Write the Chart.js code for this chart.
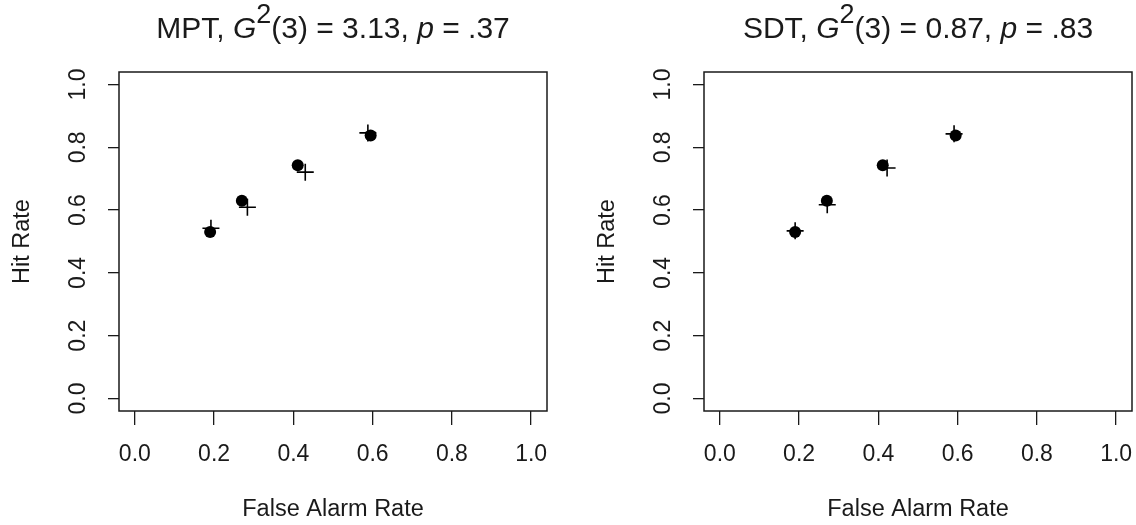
<!DOCTYPE html>
<html>
<head>
<meta charset="utf-8">
<script src="https://cdn.jsdelivr.net/npm/chart.js@4.4.1/dist/chart.umd.min.js"></script>
<style>
  html, body { margin: 0; padding: 0; background: #fff; }
  #wrap { position: relative; width: 1136px; height: 525px; overflow: hidden; }
  canvas { position: absolute; top: 0; }
  #mpt { left: 0; }
  #sdt { left: 585px; }
</style>
</head>
<body>
<div id="wrap">
  <canvas id="mpt" width="568" height="525"></canvas>
  <canvas id="sdt" width="568" height="525"></canvas>
</div>
<script>
// observed false alarm / hit rates, one pair per bias condition
const obsFalseAlarm = [0.190, 0.270, 0.411, 0.595];
const obsHit = [0.530, 0.630, 0.743, 0.838];

// predicted rates from each model
const mptFalseAlarm = [0.192, 0.284, 0.430, 0.588];
const mptHit = [0.542, 0.609, 0.721, 0.846];
const sdtFalseAlarm = [0.190, 0.271, 0.422, 0.591];
const sdtHit = [0.534, 0.617, 0.734, 0.843];

// fit statistics for the panel titles
const modelNames = ['MPT', 'SDT'];
const gSquared = ['3.13', '0.87'];
const pValues = ['.37', '.83'];
const degFree = 3;

const tickValues = [0, 0.2, 0.4, 0.6, 0.8, 1.0];

const FONT = '"Liberation Sans", Arial, Helvetica, sans-serif';
const INK = '#1a1a1a';

function toPoints(xs, ys) {
  return xs.map((x, i) => ({ x: x, y: ys[i] }));
}

// full box round the plot region
const frame = {
  id: 'frame',
  afterDatasetsDraw(chart) {
    const a = chart.chartArea, ctx = chart.ctx;
    ctx.save();
    ctx.strokeStyle = INK;
    ctx.lineWidth = 1.5;
    ctx.strokeRect(a.left, a.top, a.right - a.left, a.bottom - a.top);
    ctx.restore();
  }
};

// title with italic G and p and a raised 2
const mathTitle = {
  id: 'mathTitle',
  afterDraw(chart, args, opts) {
    const ctx = chart.ctx, a = chart.chartArea;
    const parts = [
      { t: opts.model + ', ', f: '30px ' + FONT },
      { t: 'G', f: 'italic 30px ' + FONT },
      { t: '2', f: '27px ' + FONT, up: 15 },
      { t: '(' + degFree + ') = ' + opts.g + ', ', f: '30px ' + FONT },
      { t: 'p', f: 'italic 30px ' + FONT },
      { t: ' = ' + opts.p, f: '30px ' + FONT }
    ];
    ctx.save();
    let total = 0;
    parts.forEach(pt => {
      ctx.font = pt.f;
      pt.w = ctx.measureText(pt.t).width;
      total += pt.w;
    });
    let x = (a.left + a.right) / 2 - total / 2;
    ctx.fillStyle = INK;
    ctx.textAlign = 'left';
    ctx.textBaseline = 'alphabetic';
    parts.forEach(pt => {
      ctx.font = pt.f;
      ctx.fillText(pt.t, x, 38 - (pt.up || 0));
      x += pt.w;
    });
    ctx.restore();
  }
};

function axisTicks(scale) {
  scale.ticks = tickValues.map(v => ({ value: v }));
}

function makePanel(id, idx, predX, predY) {
  new Chart(document.getElementById(id), {
    type: 'scatter',
    data: {
      datasets: [
        {
          label: 'observed',
          data: toPoints(obsFalseAlarm, obsHit),
          pointStyle: 'circle',
          pointRadius: 6,
          backgroundColor: '#000',
          borderColor: '#000',
          borderWidth: 0
        },
        {
          label: 'predicted',
          data: toPoints(predX, predY),
          pointStyle: 'cross',
          pointRadius: 8.5,
          borderColor: '#000',
          borderWidth: 1.6
        }
      ]
    },
    options: {
      responsive: false,
      animation: false,
      events: [],
      devicePixelRatio: 1,
      layout: { padding: { top: 72, right: 21, bottom: 0, left: 0 } },
      plugins: {
        legend: { display: false },
        tooltip: { enabled: false },
        title: { display: false },
        mathTitle: { model: modelNames[idx], g: gSquared[idx], p: pValues[idx] }
      },
      scales: {
        x: {
          type: 'linear',
          min: -0.04,
          max: 1.04,
          afterBuildTicks: axisTicks,
          afterFit: s => { s.height = 114; },
          border: { display: false },
          grid: { drawOnChartArea: false, tickLength: 14, color: INK, lineWidth: 1.3 },
          ticks: {
            autoSkip: false,
            minRotation: 0,
            maxRotation: 0,
            padding: 16,
            color: INK,
            font: { family: FONT, size: 23 },
            callback: v => v.toFixed(1)
          },
          title: {
            display: true,
            text: 'False Alarm Rate',
            color: INK,
            font: { family: FONT, size: 23.5 },
            padding: { top: 0, bottom: 1 }
          }
        },
        y: {
          type: 'linear',
          min: -0.04,
          max: 1.04,
          afterBuildTicks: axisTicks,
          afterFit: s => { s.width = 119; },
          border: { display: false },
          grid: { drawOnChartArea: false, tickLength: 11, color: INK, lineWidth: 1.3 },
          ticks: {
            autoSkip: false,
            minRotation: 90,
            maxRotation: 90,
            crossAlign: 'center',
            padding: 13,
            color: INK,
            font: { family: FONT, size: 23 },
            callback: v => v.toFixed(1)
          },
          title: {
            display: true,
            text: 'Hit Rate',
            color: INK,
            font: { family: FONT, size: 23.5 },
            padding: { top: 8, bottom: 0 }
          }
        }
      }
    },
    plugins: [frame, mathTitle]
  });
}

makePanel('mpt', 0, mptFalseAlarm, mptHit);
makePanel('sdt', 1, sdtFalseAlarm, sdtHit);
</script>
</body>
</html>
